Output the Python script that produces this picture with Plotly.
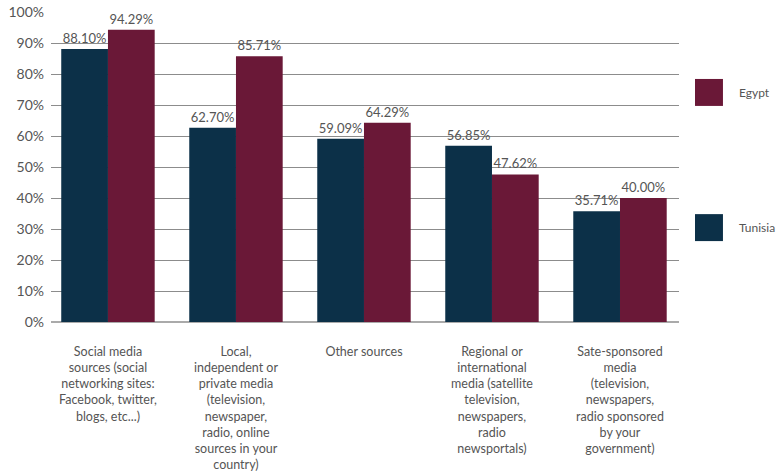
import plotly.graph_objects as go

categories = [
    "Social media<br>sources (social<br>networking sites:<br>Facebook, twitter,<br>blogs, etc...)",
    "Local,<br>independent or<br>private media<br>(television,<br>newspaper,<br>radio, online<br>sources in your<br>country)",
    "Other sources",
    "Regional or<br>international<br>media (satellite<br>television,<br>newspapers,<br>radio<br>newsportals)",
    "Sate-sponsored<br>media<br>(television,<br>newspapers,<br>radio sponsored<br>by your<br>government)",
]
tunisia = [0.8810, 0.6270, 0.5909, 0.5685, 0.3571]
egypt = [0.9429, 0.8571, 0.6429, 0.4762, 0.4000]
tick_vals = [0, 0.1, 0.2, 0.3, 0.4, 0.5, 0.6, 0.7, 0.8, 0.9, 1.0]

NAVY = "#0c3048"
MAROON = "#6a1837"
FONT = "Lato, 'Open Sans', sans-serif"

fig = go.Figure()
fig.add_trace(go.Bar(
    name="Tunisia", x=list(range(len(categories))), y=tunisia,
    marker=dict(color=NAVY, line=dict(width=0)),
    text=[f"{v*100:.2f}%" for v in tunisia], textposition="outside",
    textfont=dict(size=13, color="#555555", family=FONT), cliponaxis=False,
))
fig.add_trace(go.Bar(
    name="Egypt", x=list(range(len(categories))), y=egypt,
    marker=dict(color=MAROON, line=dict(width=0)),
    text=[f"{v*100:.2f}%" for v in egypt], textposition="outside",
    textfont=dict(size=13, color="#555555", family=FONT), cliponaxis=False,
))

fig.update_layout(
    width=778, height=474,
    margin=dict(l=51, r=99, t=12, b=152, autoexpand=False),
    paper_bgcolor="white", plot_bgcolor="white",
    barmode="group", bargap=0.27, bargroupgap=0,
    showlegend=False,
    uniformtext=dict(mode="show", minsize=13),
    font=dict(family=FONT, color="#555555"),
    xaxis=dict(
        tickmode="array", tickvals=list(range(len(categories))), ticktext=categories,
        range=[-0.445, 4.461], showgrid=False, zeroline=False, showline=False,
        tickfont=dict(size=12.5, color="#555555"), ticks="", ticklabelstandoff=20,
        tickangle=0, automargin=False,
    ),
    yaxis=dict(
        range=[0, 1], tickvals=tick_vals, tickformat=".0%",
        showgrid=True, gridcolor="#8c8c8c", gridwidth=1,
        zeroline=True, zerolinecolor="#aaaaaa", zerolinewidth=1.5,
        showline=False, ticks="", ticklabelstandoff=6,
        tickfont=dict(size=14, color="#555555"), automargin=False,
    ),
    shapes=[
        dict(type="rect", xref="paper", yref="paper", x0=1.0255, x1=1.07, y0=0.697, y1=0.784,
             fillcolor=MAROON, line=dict(width=0)),
        dict(type="rect", xref="paper", yref="paper", x0=1.0255, x1=1.07, y0=0.261, y1=0.348,
             fillcolor=NAVY, line=dict(width=0)),
    ],
    annotations=[
        dict(text="Egypt", xref="paper", yref="paper", x=1.0925, y=0.74, xanchor="left",
             yanchor="middle", showarrow=False, font=dict(size=12, color="#555555")),
        dict(text="Tunisia", xref="paper", yref="paper", x=1.0925, y=0.305, xanchor="left",
             yanchor="middle", showarrow=False, font=dict(size=12, color="#555555")),
    ],
)

fig.write_html(
    "out.html",
    config={"displayModeBar": False},
    post_script="document.body.style.margin='0';document.body.style.overflow='hidden';",
)
